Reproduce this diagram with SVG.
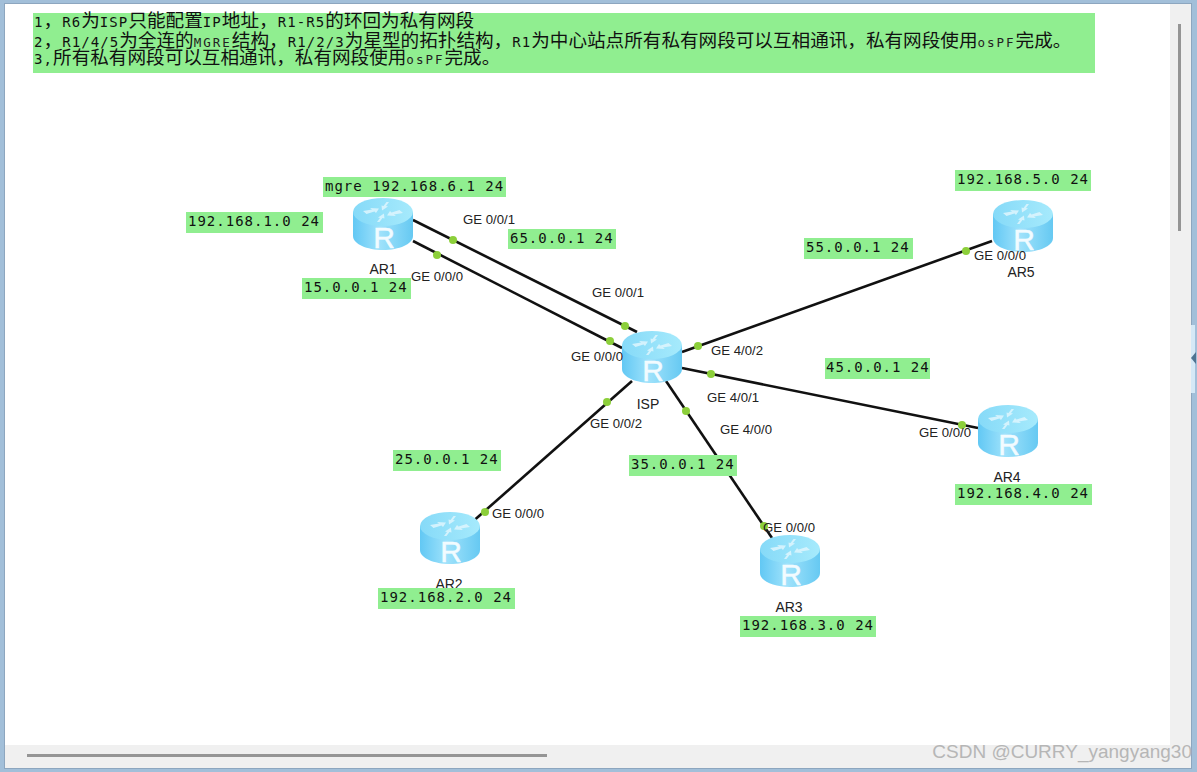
<svg xmlns="http://www.w3.org/2000/svg" width="1197" height="772" viewBox="0 0 1197 772">
<style>
.lk{stroke:#111;stroke-width:2.6;fill:none}
.dot{fill:#8ccf3a}
.hl{fill:#90ee90}
.m{font-family:"DejaVu Sans Mono","Liberation Mono",monospace;font-size:14px;letter-spacing:1px;fill:#111}
.p{font-family:"Liberation Sans",Arial,sans-serif;font-size:13.2px;fill:#222}
.n{font-family:"Liberation Sans",Arial,sans-serif;font-size:14px;fill:#222}
.t{font-family:"DejaVu Sans Mono",monospace;font-size:14px;letter-spacing:1.1px;fill:#111}
.s{font-family:"DejaVu Sans Mono",monospace;font-size:12.5px;letter-spacing:2px;fill:#222}
.c{font-family:"Noto Sans CJK SC",sans-serif;font-size:18.6px;fill:#111}
</style>
<defs>
<linearGradient id="body" x1="0" x2="1" y1="0" y2="0">
<stop offset="0" stop-color="#62c8f4"/><stop offset=".45" stop-color="#9fe2fb"/><stop offset="1" stop-color="#66c9f2"/>
</linearGradient>
<linearGradient id="top" x1="0" x2="1" y1="0" y2="0">
<stop offset="0" stop-color="#86daf8"/><stop offset="1" stop-color="#a6eafc"/>
</linearGradient>
<g id="router">
<path d="M0 14V38C0 46 14 52 30 52S60 46 60 38V14Z" fill="url(#body)"/>
<ellipse cx="30" cy="14" rx="30" ry="14" fill="url(#top)"/>
<g fill="#dff6fe" opacity=".85">
<path d="M10 13l9-1.5-2-1.5 9 .5-3 4.5-1.5-1.5-8 2.500z"/>
<path d="M50 15l-9 1.500 2 1.500-9-.5 3-4.500 1.500 1.500 8-2.500z"/>
<path d="M36 4l-3 4 2 .5-6 4-.5-5 2 .5 3-4z"/>
<path d="M24 24l3-4-2-.5 6-4 .5 5-2-.5-3 4z"/>
</g>
<text x="31" y="50" text-anchor="middle" font-family="'Liberation Sans',Arial,sans-serif" font-size="30" fill="#f2fbff" stroke="#f2fbff" stroke-width=".5">R</text>
</g>
</defs>
<rect width="1197" height="772" fill="#fff"/>
<g id="window">
<rect x="1170" y="3" width="22" height="765" fill="#f0f0f0"/>
<rect x="5" y="745" width="1187" height="23" fill="#f0f0f0"/>
<rect x="1178" y="24" width="3" height="207" fill="#959595"/>
<rect x="27" y="754" width="520" height="3" fill="#959595"/>
<path d="M0 0H1197V772H0ZM5 3V768H1191V3Z" fill="#a2bfd9" fill-rule="evenodd"/>
<rect x="4.500" y="3.500" width="1187" height="765" fill="none" stroke="#8da6bf" stroke-width="1"/>
<rect x="1191" y="325" width="4" height="68" fill="#d5e8f6"/>
<path d="M1196 352v12l-5-6z" fill="#4f7391"/>
</g>
<g id="requirements">
<rect class="hl" x="33" y="13" width="1062" height="60"/>
<text class="c" x="34" y="27"><tspan class="t">1</tspan>，<tspan class="t">R6</tspan>为<tspan class="t">ISP</tspan>只能配置<tspan class="t">IP</tspan>地址，<tspan class="t">R1-R5</tspan>的环回为私有网段</text>
<text class="c" x="34" y="47"><tspan class="t">2</tspan>，<tspan class="t">R1/4/5</tspan>为全连的<tspan class="s">MGRE</tspan>结构，<tspan class="t">R1/2/3</tspan>为星型的拓扑结构，<tspan class="t">R1</tspan>为中心站点所有私有网段可以互相通讯，私有网段使用<tspan class="s">osPF</tspan>完成。</text>
<text class="c" x="34" y="64"><tspan class="t">3,</tspan>所有私有网段可以互相通讯，私有网段使用<tspan class="s">osPF</tspan>完成。</text>
</g>
<g id="connectors">
<path class="lk" d="M413 220L637 332"/>
<path class="lk" d="M413 241L622 348"/>
<path class="lk" d="M682 352L992 241"/>
<path class="lk" d="M682 368L978 428"/>
<path class="lk" d="M632 381L470 524"/>
<path class="lk" d="M666 381L772 538"/>
<circle class="dot" cx="453" cy="240" r="4"/><circle class="dot" cx="625" cy="326" r="4"/>
<circle class="dot" cx="437" cy="255" r="4"/><circle class="dot" cx="610" cy="341" r="4"/>
<circle class="dot" cx="698" cy="346" r="4"/><circle class="dot" cx="966" cy="251" r="4"/>
<circle class="dot" cx="711" cy="374" r="4"/><circle class="dot" cx="962" cy="425" r="4"/>
<circle class="dot" cx="607" cy="402" r="4"/><circle class="dot" cx="485" cy="512" r="4"/>
<circle class="dot" cx="686" cy="411" r="4"/><circle class="dot" cx="764" cy="526" r="4"/>
</g>
<g id="AR1"><use href="#router" x="353" y="198"/><text class="n" x="383" y="274" text-anchor="middle">AR1</text></g>
<g id="ISP"><use href="#router" x="622" y="331"/><text class="n" x="648" y="409" text-anchor="middle">ISP</text></g>
<g id="AR5"><use href="#router" x="993" y="200"/><text class="n" x="1021" y="277" text-anchor="middle">AR5</text></g>
<g id="AR4"><use href="#router" x="978" y="405"/><text class="n" x="1007" y="482" text-anchor="middle">AR4</text></g>
<g id="AR2"><use href="#router" x="420" y="512"/><text class="n" x="449" y="589" text-anchor="middle">AR2</text></g>
<g id="AR3"><use href="#router" x="760" y="535"/><text class="n" x="789" y="612" text-anchor="middle">AR3</text></g>
<g id="ip-labels">
<rect class="hl" x="323" y="177" width="183" height="20"/><text class="m" x="325" y="191">mgre 192.168.6.1 24</text>
<rect class="hl" x="186" y="212" width="137" height="21"/><text class="m" x="188" y="226">192.168.1.0 24</text>
<rect class="hl" x="508" y="229" width="108" height="20"/><text class="m" x="510" y="243">65.0.0.1 24</text>
<rect class="hl" x="302" y="278" width="109" height="21"/><text class="m" x="304" y="292">15.0.0.1 24</text>
<rect class="hl" x="804" y="238" width="109" height="21"/><text class="m" x="806" y="252">55.0.0.1 24</text>
<rect class="hl" x="955" y="170" width="136" height="21"/><text class="m" x="957" y="184">192.168.5.0 24</text>
<rect class="hl" x="825" y="358" width="105" height="21"/><text class="m" x="826" y="372">45.0.0.1 24</text>
<rect class="hl" x="393" y="450" width="108" height="21"/><text class="m" x="395" y="464">25.0.0.1 24</text>
<rect class="hl" x="629" y="455" width="108" height="21"/><text class="m" x="631" y="469">35.0.0.1 24</text>
<rect class="hl" x="955" y="484" width="137" height="21"/><text class="m" x="957" y="498">192.168.4.0 24</text>
<rect class="hl" x="378" y="588" width="137" height="21"/><text class="m" x="380" y="602">192.168.2.0 24</text>
<rect class="hl" x="740" y="616" width="136" height="21"/><text class="m" x="742" y="630">192.168.3.0 24</text>
</g>
<g id="port-labels">
<text class="p" x="463" y="224">GE 0/0/1</text>
<text class="p" x="411" y="281">GE 0/0/0</text>
<text class="p" x="592" y="297">GE 0/0/1</text>
<text class="p" x="571" y="361">GE 0/0/0</text>
<text class="p" x="711" y="355">GE 4/0/2</text>
<text class="p" x="707" y="402">GE 4/0/1</text>
<text class="p" x="720" y="434">GE 4/0/0</text>
<text class="p" x="590" y="428">GE 0/0/2</text>
<text class="p" x="974" y="260">GE 0/0/0</text>
<text class="p" x="919" y="437">GE 0/0/0</text>
<text class="p" x="492" y="518">GE 0/0/0</text>
<text class="p" x="763" y="532">GE 0/0/0</text>
</g>
<text id="watermark" x="1192" y="758" text-anchor="end" font-family="'Liberation Sans',Arial,sans-serif" font-size="19" fill="#a8a8a8" opacity=".8">CSDN @CURRY_yangyang30</text>
</svg>
